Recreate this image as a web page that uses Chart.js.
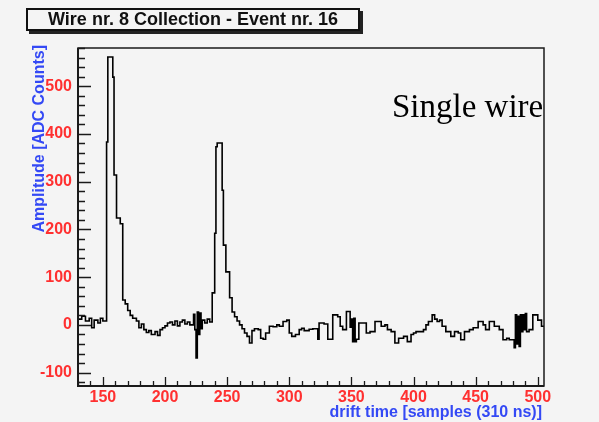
<!DOCTYPE html>
<html lang="en">
<head>
  <meta charset="UTF-8">
  <title>Wire nr. 8 Collection - Event nr. 16</title>
  <script src="https://cdn.jsdelivr.net/npm/chart.js"></script>
  <style>
    body {
      margin: 0;
      background-color: #f4f4f4;
      font-family: "Liberation Sans", Arial, sans-serif;
    }
    #wrap {
      position: relative;
      width: 599px;
      height: 422px;
    }
    #titlebox {
      position: absolute;
      left: 26px;
      top: 8px;
      width: 330px;
      height: 19px;
      border: 2px solid #111;
      box-shadow: 3px 3px 0 #222;
      background-color: #f4f4f4;
      font-weight: bold;
      font-size: 18px;
      line-height: 19px;
      text-align: center;
      color: #111;
    }
  </style>
</head>
<body>
  <div id="wrap">
    <canvas id="wire" width="599" height="422"></canvas>
    <div id="titlebox">Wire nr. 8 Collection - Event nr. 16</div>
  </div>

  <script>
    // histogram bins: start of each bin (samples) and its amplitude (ADC counts)
    const binStart = [
      130, 133, 136, 139, 141, 143, 146, 148, 150, 153,
      154, 158, 159, 161, 164, 166, 168, 170, 172, 174,
      177, 179, 181, 183, 185, 187, 189, 192, 194, 196,
      198, 200, 202, 204, 206, 208, 210, 212, 214, 216,
      218, 220, 223, 224, 225, 226, 227, 228, 229, 230,
      232, 234, 236, 238, 240, 241, 242, 246, 247, 249,
      252, 254, 256, 258, 260, 262, 264, 266, 268, 270,
      272, 275, 277, 279, 281, 284, 287, 290, 292, 295,
      298, 300, 302, 305, 308, 310, 312, 316, 319, 323,
      324, 328, 331, 335, 339, 341, 343, 346, 349, 350,
      351, 352, 353, 354, 356, 361, 362, 365, 369, 372,
      374, 377, 379, 382, 385, 388, 392, 395, 398, 400,
      402, 406, 408, 410, 412, 415, 417, 419, 421, 423,
      426, 430, 433, 436, 438, 441, 445, 448, 452, 456,
      458, 461, 465, 469, 472, 475, 477, 481, 482, 483,
      484, 485, 486, 487, 488, 489, 490, 491, 493, 496,
      500, 503, 505
    ];
    const amplitude = [
      12, 18, 8, 14, -6, 10, 4, 14, 8, 383,
      561, 519, 314, 224, 212, 52, 44, 30, 20, 14,
      8, -6, 2, -10, -16, -12, -20, -14, -22, -10,
      -6, -2, 4, 6, 0, 8, -2, 6, 10, 2,
      6, 0, 22, -10, -69, 27, -20, 25, -8, 10,
      4, 12, 6, 67, 192, 373, 381, 282, 167, 111,
      57, 27, 17, 8, 0, -8, -17, -24, -38, -12,
      -8, -10, -28, -30, -17, -3, -4, 0, -3, 7,
      10, -17, -24, -20, -10, -7, -12, -9, -8, -30,
      4, 2, -30, 21, 17, -3, -10, 28, -5, 12,
      -35, 14, -35, -30, 4, 4, -17, -14, 7, 7,
      -3, 0, -10, -14, -38, -28, -24, -35, -20, -17,
      -14, -14, -10, 0, 7, 21, 12, 7, 10, -3,
      -14, -24, -14, -17, -31, -14, -10, -6, 7, 0,
      -10, 7, -3, -10, -31, -28, -31, -48, 21, -40,
      18, -45, 21, -14, 21, -10, 24, -14, -10, 21,
      10, -3, -3
    ];

    const xTicks = [150, 200, 250, 300, 350, 400, 450, 500];
    const yTicks = [-100, 0, 100, 200, 300, 400, 500];

    const X_MIN = 130, X_MAX = 505;
    const Y_MIN = -128, Y_MAX = 580;

    const RED = "#ff3030";
    const BLUE = "#3449f5";

    const points = binStart.map((x, i) => ({ x: x, y: amplitude[i] }));

    // frame, inward tick marks, axis titles and the "Single wire" note
    const rootStyle = {
      id: "rootStyle",
      afterDraw(chart) {
        const ctx = chart.ctx;
        const a = chart.chartArea;
        const xs = chart.scales.x;
        const ys = chart.scales.y;
        ctx.save();

        ctx.strokeStyle = "#1a1a1a";
        ctx.lineWidth = 1.5;
        ctx.strokeRect(a.left, a.top, a.right - a.left, a.bottom - a.top);
        ctx.lineWidth = 2;
        ctx.beginPath();
        ctx.moveTo(a.left, a.top);
        ctx.lineTo(a.left, a.bottom);
        ctx.lineTo(a.right, a.bottom);
        ctx.stroke();

        ctx.lineWidth = 1.3;
        ctx.beginPath();
        for (let v = 130; v <= X_MAX; v += 10) {
          const px = Math.round(xs.getPixelForValue(v)) + 0.5;
          const len = v % 50 === 0 ? 9 : 5;
          ctx.moveTo(px, a.bottom);
          ctx.lineTo(px, a.bottom - len);
        }
        for (let v = -120; v <= Y_MAX; v += 20) {
          const py = Math.round(ys.getPixelForValue(v)) + 0.5;
          const len = v % 100 === 0 ? 13 : 7;
          ctx.moveTo(a.left, py);
          ctx.lineTo(a.left + len, py);
        }
        ctx.stroke();

        ctx.fillStyle = BLUE;
        ctx.font = "bold 16px 'Liberation Sans', Arial, sans-serif";
        ctx.textAlign = "right";
        ctx.textBaseline = "middle";
        ctx.fillText("drift time [samples (310 ns)]", a.right - 2, 413);

        ctx.save();
        ctx.translate(40, a.top - 3);
        ctx.rotate(-Math.PI / 2);
        ctx.textAlign = "right";
        ctx.fillText("Amplitude [ADC Counts]", 0, 0);
        ctx.restore();

        ctx.fillStyle = "#000";
        ctx.font = "33px 'Liberation Serif', 'Times New Roman', serif";
        ctx.textAlign = "left";
        ctx.textBaseline = "alphabetic";
        ctx.fillText("Single wire", 392, 117);

        ctx.restore();
      }
    };

    const tickFont = { family: "'Liberation Sans', Arial, sans-serif", size: 16, weight: "bold" };

    new Chart(document.getElementById("wire"), {
      type: "line",
      data: {
        datasets: [{
          label: "Wire nr. 8",
          data: points,
          stepped: "before",
          borderColor: "#000",
          borderWidth: 1.6,
          borderJoinStyle: "miter",
          pointRadius: 0,
          fill: false
        }]
      },
      options: {
        responsive: false,
        animation: false,
        layout: { padding: { left: 0, top: 48, right: 55, bottom: 0 } },
        plugins: {
          legend: { display: false },
          tooltip: { enabled: false }
        },
        scales: {
          x: {
            type: "linear",
            min: X_MIN,
            max: X_MAX,
            grid: { display: false, drawTicks: false },
            border: { display: false },
            afterBuildTicks(scale) { scale.ticks = xTicks.map(v => ({ value: v })); },
            ticks: {
              maxRotation: 0,
              autoSkip: false,
              padding: 2,
              color: RED,
              font: tickFont
            },
            afterFit(scale) { scale.height = 36; }
          },
          y: {
            min: Y_MIN,
            max: Y_MAX,
            grid: { display: false, drawTicks: false },
            border: { display: false },
            afterBuildTicks(scale) { scale.ticks = yTicks.map(v => ({ value: v })); },
            ticks: {
              autoSkip: false,
              padding: 6,
              color: RED,
              font: tickFont
            },
            afterFit(scale) { scale.width = 78; }
          }
        }
      },
      plugins: [rootStyle]
    });
  </script>
</body>
</html>
